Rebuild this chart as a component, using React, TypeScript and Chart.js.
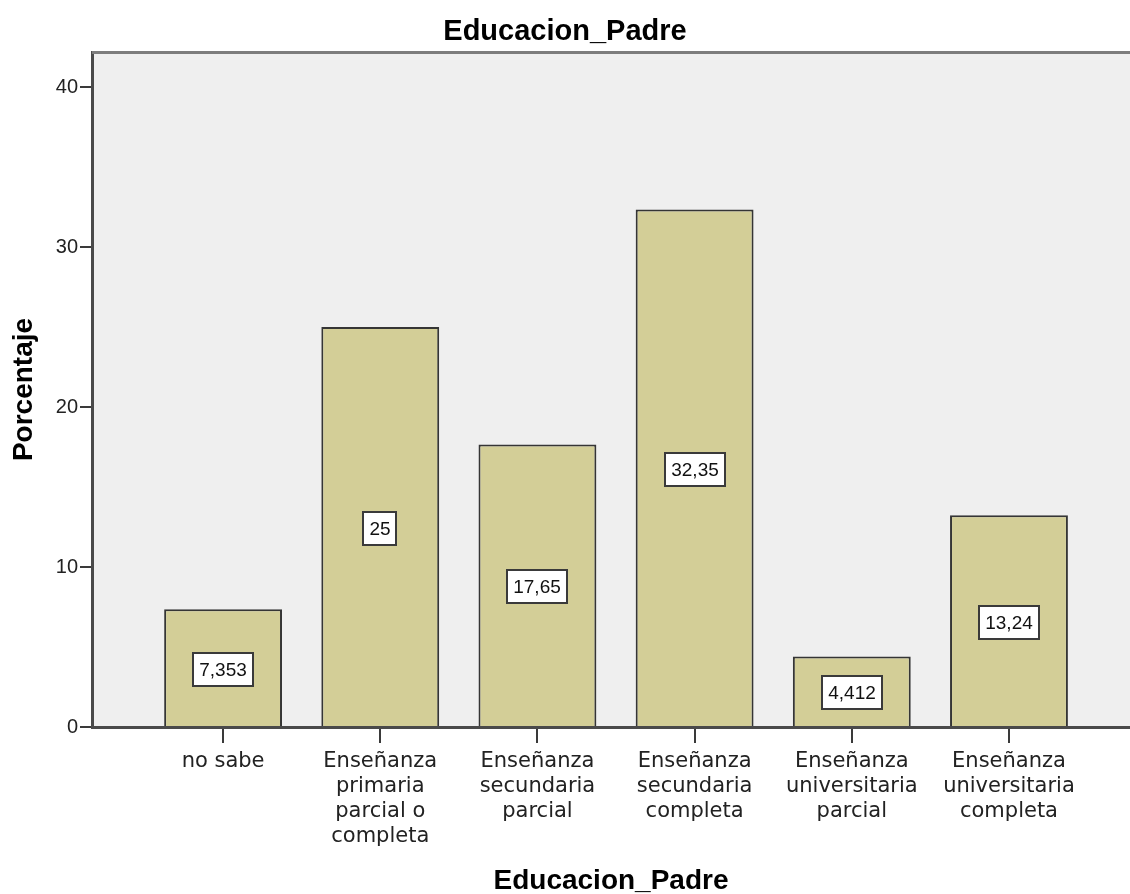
import React, { useEffect, useRef } from 'react';
import { Chart, registerables } from 'chart.js';

Chart.register(...registerables);

const categories: string[][] = [
  ['no sabe'],
  ['Enseñanza', 'primaria', 'parcial o', 'completa'],
  ['Enseñanza', 'secundaria', 'parcial'],
  ['Enseñanza', 'secundaria', 'completa'],
  ['Enseñanza', 'universitaria', 'parcial'],
  ['Enseñanza', 'universitaria', 'completa'],
];
const percentages: number[] = [7.353, 25, 17.65, 32.35, 4.412, 13.24];
const yTickValues: number[] = [0, 10, 20, 30, 40];
const chartTitle = 'Educacion_Padre';
const xAxisTitle = 'Educacion_Padre';
const yAxisTitle = 'Porcentaje';

const formatValue = (v: number) => String(v).replace('.', ',');

const plotFrame = {
  id: 'plotFrame',
  beforeDraw(chart: any) {
    const { ctx, chartArea } = chart;
    const { left, top, right, bottom } = chartArea;
    ctx.save();
    ctx.fillStyle = '#EFEFEF';
    ctx.fillRect(left, top, right - left, bottom - top);
    ctx.restore();
  },
  beforeDatasetsDraw(chart: any) {
    const { ctx, chartArea } = chart;
    const { left, top, right } = chartArea;
    ctx.save();
    ctx.strokeStyle = '#7d7d7d';
    ctx.lineWidth = 3;
    ctx.beginPath();
    ctx.moveTo(left, top + 0.5);
    ctx.lineTo(right, top + 0.5);
    ctx.stroke();
    ctx.restore();
  },
};

const valueLabels = {
  id: 'valueLabels',
  afterDatasetsDraw(chart: any) {
    const ctx = chart.ctx;
    const meta = chart.getDatasetMeta(0);
    ctx.save();
    ctx.font = '19px "Liberation Sans", Arial, sans-serif';
    ctx.textAlign = 'center';
    ctx.textBaseline = 'middle';
    meta.data.forEach((el: any, i: number) => {
      const { x, y, base } = el.getProps(['x', 'y', 'base'], true);
      const text = formatValue(percentages[i]);
      const w = Math.round(ctx.measureText(text).width + 12);
      const h = 33;
      const cx = Math.round(x);
      const cy = Math.round((y + base) / 2 + 2);
      const bx = cx - Math.round(w / 2);
      const by = cy - Math.round(h / 2);
      ctx.fillStyle = '#ffffff';
      ctx.fillRect(bx, by, w, h);
      ctx.strokeStyle = '#3a3a3a';
      ctx.lineWidth = 2;
      ctx.strokeRect(bx, by, w, h);
      ctx.fillStyle = '#111111';
      ctx.fillText(text, cx, cy + 1);
    });
    ctx.restore();
  },
};

export default function App() {
  const canvasRef = useRef<HTMLCanvasElement | null>(null);

  useEffect(() => {
    if (!canvasRef.current) return;
    const chart = new Chart(canvasRef.current, {
      type: 'bar',
      data: {
        datasets: [
          {
            label: yAxisTitle,
            data: percentages.map((v, i) => ({ x: i, y: v })),
            backgroundColor: '#D3CE97',
            borderColor: '#353535',
            borderWidth: 2,
            categoryPercentage: 1,
            barPercentage: 0.75,
          },
        ],
      },
      options: {
        responsive: false,
        animation: false,
        events: [],
        layout: { padding: 0 },
        plugins: {
          legend: { display: false },
          tooltip: { enabled: false },
          title: {
            display: true,
            text: chartTitle,
            color: '#000',
            font: { family: '"Liberation Sans", Arial, sans-serif', size: 29, weight: 'bold', lineHeight: 1.2 },
            padding: { top: 15, bottom: 2.2 },
          },
        },
        scales: {
          x: {
            type: 'linear',
            offset: false,
            min: -0.834,
            max: 5.77,
            afterBuildTicks: (scale: any) => {
              scale.ticks = categories.map((_, i) => ({ value: i }));
            },
            afterFit: (scale: any) => {
              scale.height = 167;
            },
            ticks: {
              autoSkip: false,
              maxRotation: 0,
              minRotation: 0,
              padding: 6,
              color: '#222',
              font: { family: '"DejaVu Sans", sans-serif', size: 21, lineHeight: '25px' },
              callback: (value: any) => categories[value as number] ?? '',
            },
            grid: {
              offset: false,
              drawOnChartArea: false,
              drawTicks: true,
              tickLength: 16,
              tickColor: '#3a3a3a',
              lineWidth: 2,
            },
            border: { display: true, color: '#4a4a4a', width: 3 },
            title: {
              display: true,
              text: xAxisTitle,
              color: '#000',
              font: { family: '"Liberation Sans", Arial, sans-serif', size: 28, weight: 'bold', lineHeight: 0.9 },
              padding: { top: 0, bottom: 0 },
            },
          },
          y: {
            type: 'linear',
            min: 0,
            max: 42.19,
            afterBuildTicks: (scale: any) => {
              scale.ticks = yTickValues.map((v) => ({ value: v }));
            },
            afterFit: (scale: any) => {
              scale.width = 92;
            },
            ticks: {
              padding: 2,
              color: '#222',
              font: { family: '"Liberation Sans", Arial, sans-serif', size: 20 },
            },
            grid: {
              drawOnChartArea: false,
              drawTicks: true,
              tickLength: 12,
              tickColor: '#3a3a3a',
              lineWidth: 2,
            },
            border: { display: true, color: '#4a4a4a', width: 3 },
            title: {
              display: true,
              text: yAxisTitle,
              color: '#000',
              font: { family: '"Liberation Sans", Arial, sans-serif', size: 28, weight: 'bold', lineHeight: 1.2 },
              padding: { top: 7, bottom: 0 },
            },
          },
        },
      },
      plugins: [plotFrame, valueLabels],
    } as any);
    return () => chart.destroy();
  }, []);

  return (
    <div style={{ position: 'absolute', left: 0, top: 0, width: 1130, height: 894, background: '#fff' }}>
      <canvas ref={canvasRef} width={1130} height={894} />
    </div>
  );
}
